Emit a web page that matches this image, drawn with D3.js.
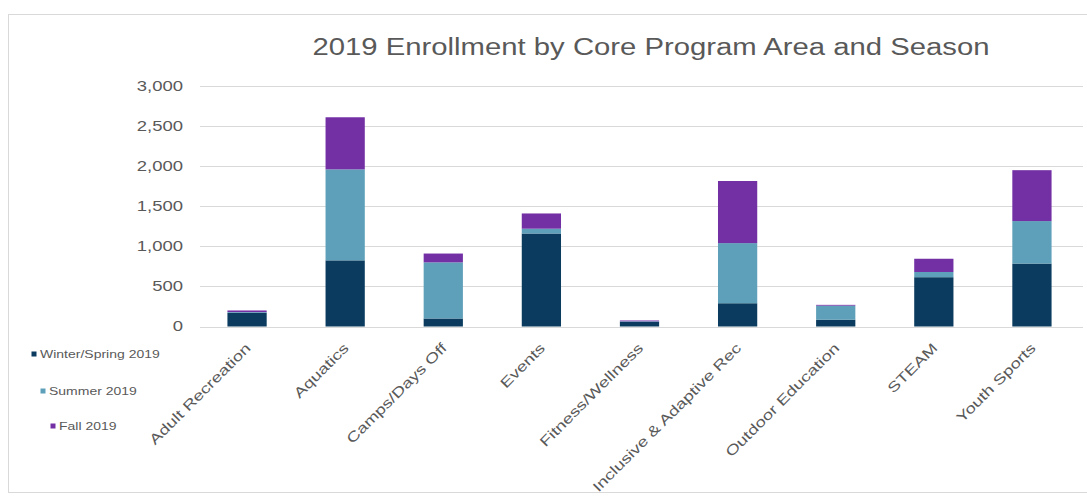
<!DOCTYPE html>
<html>
<head>
<meta charset="utf-8">
<script src="https://cdn.jsdelivr.net/npm/d3@7"></script>
<style>
  html, body { margin: 0; padding: 0; background: #fff; }
  svg { display: block; font-family: "Liberation Sans", Arial, sans-serif; }
</style>
</head>
<body>
<svg id="chart" width="1087" height="496"></svg>
<script>
// Program areas along the x axis
const categories = [
  "Adult Recreation", "Aquatics", "Camps/Days Off", "Events", "Fitness/Wellness",
  "Inclusive & Adaptive Rec", "Outdoor Education", "STEAM", "Youth Sports"
];
// Enrollment per season (stacked bottom to top)
const seasons = ["Winter/Spring 2019", "Summer 2019", "Fall 2019"];
const winterSpring = [170, 825, 100, 1160, 60, 290, 85, 615, 785];
const summer       = [10, 1135, 700, 60, 5, 750, 175, 65, 530];
const fall         = [20, 650, 110, 190, 10, 775, 10, 165, 635];
const yTicks = [0, 500, 1000, 1500, 2000, 2500, 3000];
const title = "2019 Enrollment by Core Program Area and Season";

const colors = ["#0b3c5f", "#5e9fb9", "#7330a5"];
const textColor = "#595959";
// text in this chart is drawn wide: horizontal stretch applied to glyphs
const stretch = 1.32;

const svg = d3.select("#chart");

// outer chart frame
svg.append("rect")
  .attr("x", 8.5).attr("y", 14.5)
  .attr("width", 1090).attr("height", 478)
  .attr("fill", "none").attr("stroke", "#d9d9d9");

const plot = { left: 198, right: 1081, top: 86, bottom: 326.5 };

const x = d3.scaleBand()
  .domain(categories)
  .range([plot.left, plot.right])
  .paddingInner(0.6).paddingOuter(0.3);

const y = d3.scaleLinear()
  .domain([0, 3000])
  .range([plot.bottom, plot.top]);

// gridlines
svg.append("g")
  .selectAll("line")
  .data(yTicks)
  .join("line")
  .attr("x1", plot.left + 2).attr("x2", plot.right + 2)
  .attr("y1", d => Math.round(y(d)) + 0.5).attr("y2", d => Math.round(y(d)) + 0.5)
  .attr("stroke", "#d9d9d9").attr("stroke-width", 1);

// y axis labels
const yAxis = d3.axisLeft(y)
  .tickValues(yTicks)
  .tickFormat(d3.format(","))
  .tickSize(0)
  .tickPadding(0);
const gy = svg.append("g")
  .attr("transform", `translate(${plot.left - 15},0)`)
  .call(yAxis);
gy.select(".domain").remove();
gy.selectAll("text")
  .attr("x", 0)
  .attr("fill", textColor)
  .style("font-size", "14px")
  .attr("font-family", "Liberation Sans, Arial, sans-serif")
  .attr("transform", `scale(${stretch},1)`);

// stacked bars
const rows = categories.map((c, i) => ({
  category: c,
  "Winter/Spring 2019": winterSpring[i],
  "Summer 2019": summer[i],
  "Fall 2019": fall[i]
}));
const stacked = d3.stack().keys(seasons)(rows);

svg.append("g")
  .selectAll("g")
  .data(stacked)
  .join("g")
  .attr("fill", (d, i) => colors[i])
  .selectAll("rect")
  .data(d => d)
  .join("rect")
  .attr("x", d => x(d.data.category))
  .attr("width", x.bandwidth())
  .attr("y", d => y(d[1]))
  .attr("height", d => y(d[0]) - y(d[1]));

// category labels, rotated
const xAxis = d3.axisBottom(x).tickSize(0).tickPadding(0);
const gx = svg.append("g")
  .attr("transform", `translate(0,${plot.bottom})`)
  .call(xAxis);
gx.select(".domain").remove();
gx.selectAll("text")
  .attr("y", 0)
  .attr("fill", textColor)
  .style("font-size", "14px")
  .attr("font-family", "Liberation Sans, Arial, sans-serif")
  .attr("text-anchor", "end")
  .attr("dy", "0.35em")
  .attr("transform", `translate(1,19) rotate(-45) scale(${stretch},1)`);

// title
svg.append("text")
  .attr("x", 651).attr("y", 55)
  .attr("text-anchor", "middle")
  .attr("fill", textColor)
  .style("font-size", "23px")
  .attr("textLength", 677)
  .attr("lengthAdjust", "spacingAndGlyphs")
  .text(title);

// legend
const legend = svg.append("g")
  .selectAll("g")
  .data(seasons)
  .join("g")
  .attr("transform", (d, i) => `translate(${[34, 43, 53][i]},${[354, 391, 426][i]})`);
legend.append("rect")
  .attr("x", -2.5).attr("y", -2.5)
  .attr("width", 5).attr("height", 5)
  .attr("fill", (d, i) => colors[i]);
legend.append("text")
  .attr("x", 0).attr("y", 0).attr("dy", "0.35em")
  .attr("fill", textColor)
  .style("font-size", "10px")
  .attr("transform", "translate(6,0) scale(1.4,1)")
  .text(d => d);
</script>
</body>
</html>
